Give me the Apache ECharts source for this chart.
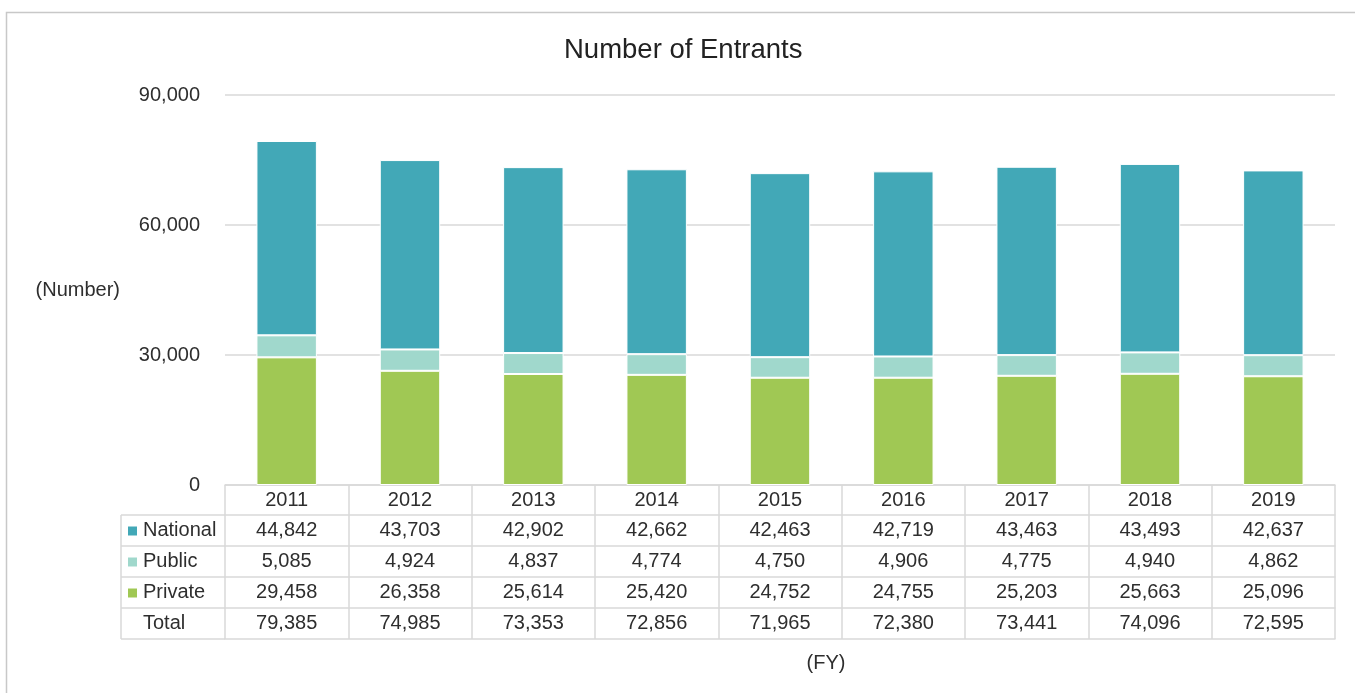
<!DOCTYPE html>
<html>
<head>
<meta charset="utf-8">
<script src="https://cdn.jsdelivr.net/npm/echarts@6/dist/echarts.min.js"></script>
<style>html,body{margin:0;padding:0;background:#fff}#c{width:1355px;height:693px}</style>
</head>
<body>
<div id="c"></div>
<script>
const categories = ['2011','2012','2013','2014','2015','2016','2017','2018','2019'];
const national = [44842, 43703, 42902, 42662, 42463, 42719, 43463, 43493, 42637];
const publicV  = [5085, 4924, 4837, 4774, 4750, 4906, 4775, 4940, 4862];
const privateV = [29458, 26358, 25614, 25420, 24752, 24755, 25203, 25663, 25096];
const totals   = [79385, 74985, 73353, 72856, 71965, 72380, 73441, 74096, 72595];
const yTicks = [0, 30000, 60000, 90000];
const seriesNames = ['National', 'Public', 'Private'];
const rowNames = ['National', 'Public', 'Private', 'Total'];

const colors = {National: '#42A8B7', Public: '#A0D8CC', Private: '#A0C854'};
const FONT = 'Liberation Sans, Arial, sans-serif';
const TXT = '#2e2e2e';
const LINE = '#d9d9d9';
const FS = 20;

const G_LEFT = 225, G_RIGHT = 1335, G_TOP = 95, G_BOTTOM = 485;
const HEAD_H = 30, ROW_H = 31;

const fmt = v => v.toLocaleString('en-US');
const rows = [national, publicV, privateV, totals];

const chart = echarts.init(document.getElementById('c'));

const xAxes = [{
  type: 'category', data: categories, gridIndex: 0, position: 'bottom',
  axisLine: {show: true, lineStyle: {color: LINE, width: 1.5}},
  axisTick: {show: true, length: HEAD_H, lineStyle: {color: LINE, width: 1.5}},
  axisLabel: {interval: 0, margin: HEAD_H/2, verticalAlign: 'middle', fontSize: FS, color: TXT, fontFamily: FONT}
}];
rows.forEach((arr, r) => {
  xAxes.push({
    type: 'category', data: categories, gridIndex: 0, position: 'bottom',
    offset: HEAD_H + ROW_H * r,
    axisLine: {show: true, lineStyle: {color: LINE, width: 1.5}},
    axisTick: {show: true, length: ROW_H, lineStyle: {color: LINE, width: 1.5}},
    axisLabel: {interval: 0, margin: ROW_H/2, verticalAlign: 'middle', fontSize: FS, color: TXT, fontFamily: FONT,
      formatter: (v, i) => fmt(arr[i])},
    splitLine: {show: false}
  });
});
xAxes.push({
  type: 'category', data: categories, gridIndex: 0, position: 'bottom',
  offset: HEAD_H + ROW_H * rows.length,
  axisLine: {show: true, lineStyle: {color: LINE, width: 1.5}},
  axisTick: {show: false}, axisLabel: {show: false}
});

const graphics = [];
// outer frame
graphics.push({type: 'rect', shape: {x: 6.5, y: 12.5, width: 1400, height: 720}, style: {fill: 'none', stroke: '#c8c8c8', lineWidth: 1.5}, silent: true});
// left column of table
const tTop = G_BOTTOM + HEAD_H, tLeft = 121;
graphics.push({type: 'line', shape: {x1: tLeft, y1: tTop, x2: tLeft, y2: tTop + ROW_H * rowNames.length}, style: {stroke: LINE, lineWidth: 1.5}, silent: true});
for (let r = 0; r <= rowNames.length; r++) {
  graphics.push({type: 'line', shape: {x1: tLeft, y1: tTop + ROW_H * r, x2: G_LEFT, y2: tTop + ROW_H * r}, style: {stroke: LINE, lineWidth: 1.5}, silent: true});
}
rowNames.forEach((name, r) => {
  const cy = tTop + ROW_H * r + ROW_H / 2;
  if (colors[name]) {
    graphics.push({type: 'rect', shape: {x: 128, y: cy - 4, width: 9, height: 9}, style: {fill: colors[name]}, silent: true});
  }
  graphics.push({type: 'text', x: 143, y: cy, style: {text: name, fontSize: FS, fill: TXT, fontFamily: FONT, textVerticalAlign: 'middle', textAlign: 'left'}, silent: true});
});
graphics.push({type: 'text', x: 826, y: 663, style: {text: '(FY)', fontSize: FS, fill: TXT, fontFamily: FONT, textVerticalAlign: 'middle', textAlign: 'center'}, silent: true});

const seriesData = [privateV, publicV, national];
const seriesOrder = ['Private', 'Public', 'National'];

chart.setOption({
  animation: false,
  backgroundColor: '#fff',
  textStyle: {fontFamily: FONT},
  title: {text: 'Number of Entrants', left: 559, top: 31,
    textStyle: {fontSize: 27.5, fontWeight: 'normal', color: '#222', fontFamily: FONT}},
  grid: {left: G_LEFT, right: 1355 - G_RIGHT, top: G_TOP, bottom: 693 - G_BOTTOM},
  xAxis: xAxes,
  yAxis: {
    type: 'value', min: yTicks[0], max: yTicks[yTicks.length - 1], interval: yTicks[1] - yTicks[0],
    name: '(Number)', nameLocation: 'middle', nameRotate: 0, nameGap: 105,
    nameTextStyle: {fontSize: FS, color: TXT, fontFamily: FONT, align: 'right'},
    axisLine: {show: false}, axisTick: {show: false},
    axisLabel: {margin: 25, fontSize: FS, color: TXT, fontFamily: FONT, formatter: v => fmt(v)},
    splitLine: {lineStyle: {color: LINE, width: 1.5}}
  },
  series: seriesOrder.map((name, k) => ({
    name, type: 'bar', stack: 'total', xAxisIndex: 0, barWidth: '49%',
    data: seriesData[k],
    itemStyle: {color: colors[name], borderColor: '#fff', borderWidth: 1}
  })),
  graphic: graphics
});
</script>
</body>
</html>
